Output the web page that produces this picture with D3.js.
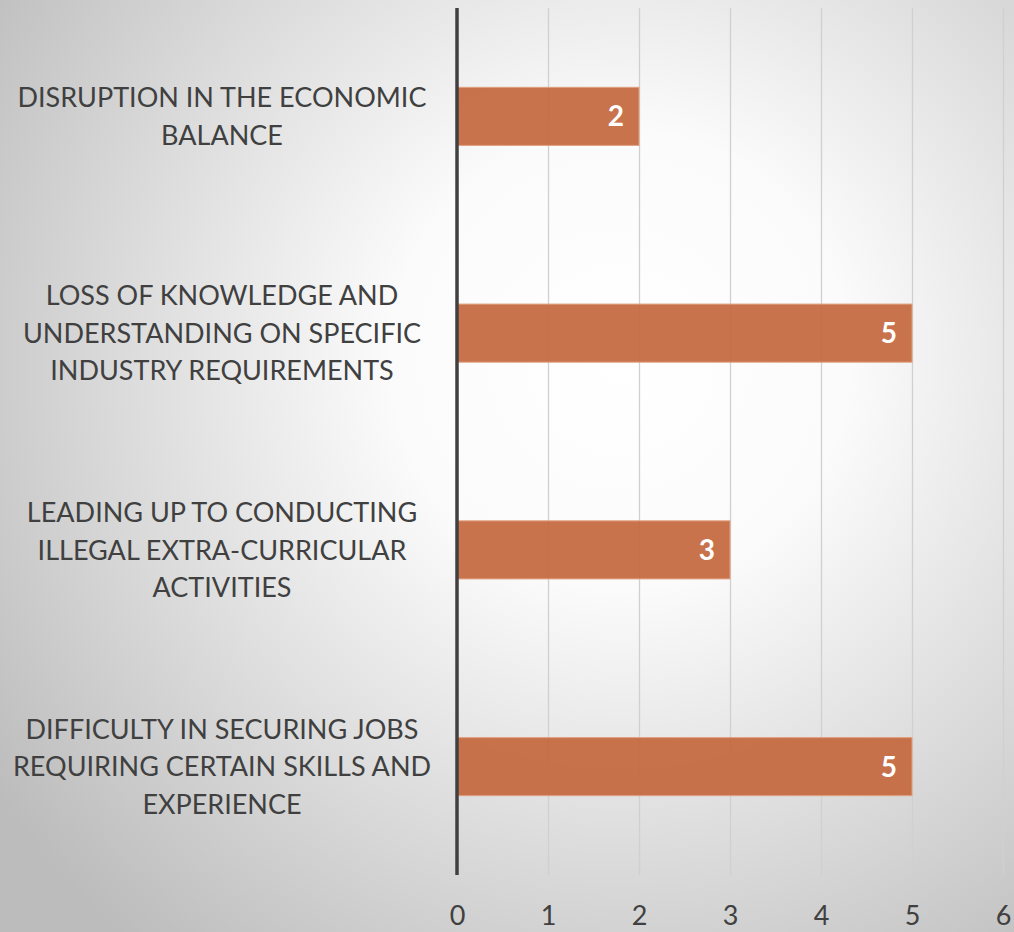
<!DOCTYPE html>
<html><head><meta charset="utf-8">
<script src="https://cdn.jsdelivr.net/npm/d3@7"></script>
<style>html,body{margin:0;padding:0;overflow:hidden;}svg{display:block;}</style>
</head><body>
<script>
const categories = [
  ["DISRUPTION IN THE ECONOMIC", "BALANCE"],
  ["LOSS OF KNOWLEDGE AND", "UNDERSTANDING ON SPECIFIC", "INDUSTRY REQUIREMENTS"],
  ["LEADING UP TO CONDUCTING", "ILLEGAL EXTRA-CURRICULAR", "ACTIVITIES"],
  ["DIFFICULTY IN SECURING JOBS", "REQUIRING CERTAIN SKILLS AND", "EXPERIENCE"]
];
const values = [2, 5, 3, 5];
const tickValues = [0, 1, 2, 3, 4, 5, 6];

const W = 1014, H = 932;
const svg = d3.select("body").append("svg").attr("width", W).attr("height", H);
const defs = svg.append("defs");
const rg = defs.append("radialGradient").attr("id", "bg")
  .attr("gradientUnits", "userSpaceOnUse")
  .attr("cx", 620).attr("cy", 360).attr("r", 760);
rg.append("stop").attr("offset", "0").attr("stop-color", "#ffffff");
rg.append("stop").attr("offset", "0.3").attr("stop-color", "#fbfbfb");
rg.append("stop").attr("offset", "1").attr("stop-color", "#bcbcbc");
svg.append("rect").attr("width", W).attr("height", H).attr("fill", "url(#bg)");

const font = "Lato, 'Open Sans', sans-serif";
const x = d3.scaleLinear().domain([0, 6]).range([457, 1003]);
const y = d3.scaleBand().domain(d3.range(values.length)).range([8, 875])
  .paddingInner(0.732).paddingOuter(0.366);

// gridlines
const xAxis = d3.axisBottom(x).tickValues(tickValues).tickSize(-867).tickPadding(0).tickFormat(d3.format("d"));
const gx = svg.append("g").attr("transform", "translate(0,875)").call(xAxis);
gx.select(".domain").remove();
gx.selectAll(".tick line").attr("stroke", "#d0d0d0").attr("stroke-width", 1.3);
gx.selectAll(".tick text").attr("y", 50).attr("dy", 0).attr("fill", "#404040")
  .attr("font-family", font).attr("font-size", 27);

// bars
svg.append("g").selectAll("rect").data(values).join("rect")
  .attr("x", x(0)).attr("y", (d, i) => y(i))
  .attr("width", d => x(d) - x(0)).attr("height", y.bandwidth())
  .attr("fill", "#c5683f").attr("fill-opacity", 0.93)
  .attr("stroke", "#e0a080").attr("stroke-width", 1);

// value labels
svg.append("g").selectAll("text").data(values).join("text")
  .attr("x", d => x(d) - 15).attr("y", (d, i) => y(i) + y.bandwidth() / 2)
  .attr("dy", "0.36em").attr("text-anchor", "end")
  .attr("fill", "#ffffff").attr("font-weight", "bold")
  .attr("font-family", font).attr("font-size", 28).text(d => d);

// axis line
svg.append("line").attr("x1", x(0)).attr("x2", x(0)).attr("y1", 8).attr("y2", 875)
  .attr("stroke", "#404040").attr("stroke-width", 3.5);

// category labels
const lineH = 37.5;
const lg = svg.append("g");
categories.forEach((lines, i) => {
  const cy = y(i) + y.bandwidth() / 2;
  const t = lg.append("text").attr("text-anchor", "middle")
    .attr("font-family", font).attr("font-size", 27).attr("fill", "#404040");
  lines.forEach((ln, j) => {
    t.append("tspan").attr("x", 222)
      .attr("y", cy + (j - (lines.length - 1) / 2) * lineH)
      .attr("dy", "0.36em").text(ln);
  });
});
</script>
</body></html>
